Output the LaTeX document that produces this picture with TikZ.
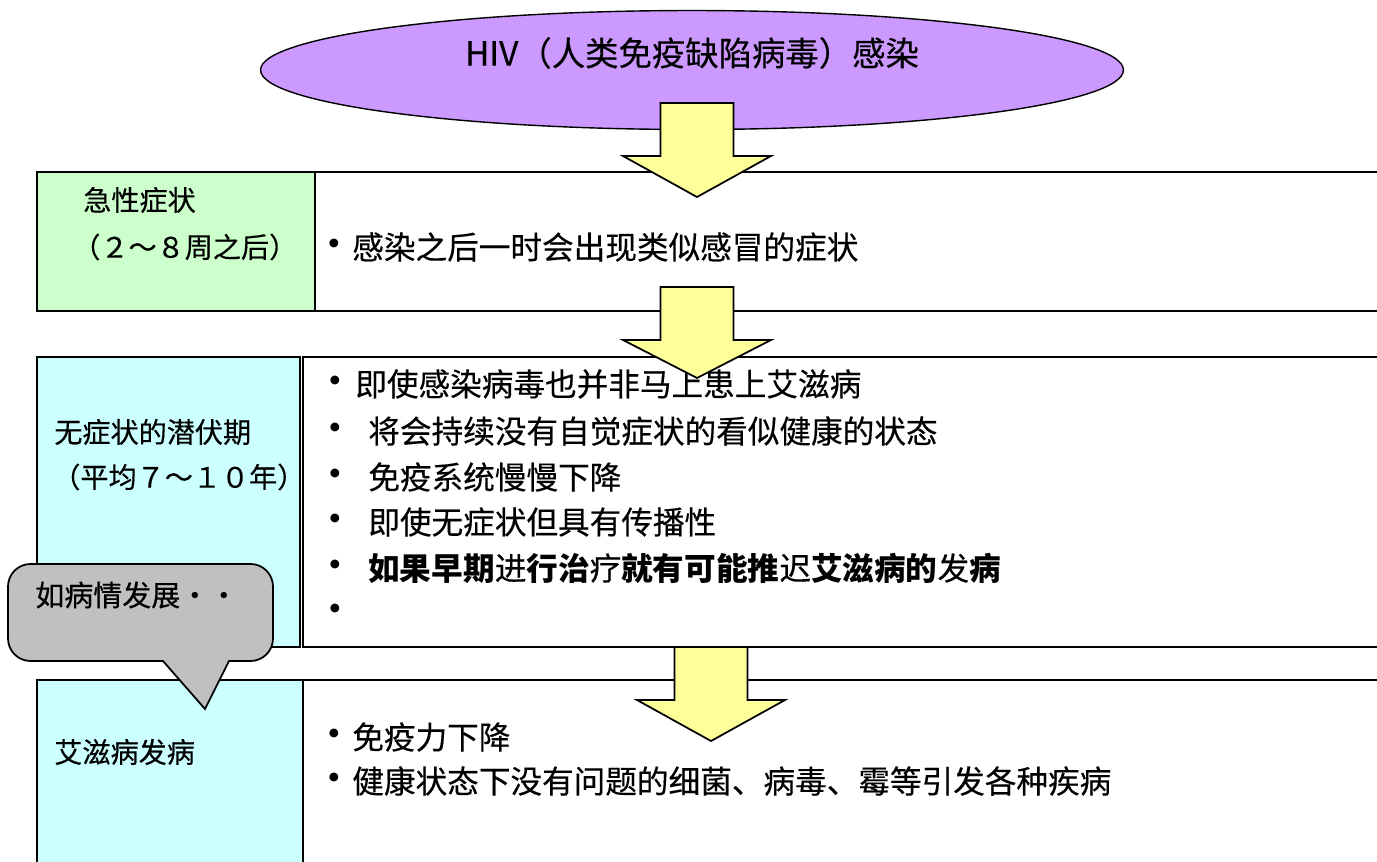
\documentclass[tikz,border=0pt]{standalone}
\usepackage{fontspec}
\setmainfont{Noto Sans CJK SC}[UprightFeatures={FakeBold=0.35}]
\usetikzlibrary{shapes.geometric}
\definecolor{hivpurple}{HTML}{CC99FF}
\definecolor{acutegreen}{HTML}{CCFFCC}
\definecolor{latentcyan}{HTML}{CCFFFF}
\definecolor{arrowyellow}{HTML}{FFFF99}
\definecolor{calloutgray}{HTML}{C0C0C0}
\newcommand{\downblock}[4]{\filldraw[blockarrow] (#1-36.5,#2) -- (#1+36.5,#2) -- (#1+36.5,#3) -- (#1+74,#3) -- (#1,#4) -- (#1-74,#3) -- (#1-36.5,#3) -- cycle;}

\begin{document}
\begin{tikzpicture}[x=0.02cm, y=-0.02cm,
    stagebox/.style={draw, line width=1pt},
    blockarrow/.style={draw, fill=arrowyellow, line width=1pt, line join=miter},
    sidetext/.style={anchor=west, inner sep=0pt, font=\fontsize{16}{16}\selectfont},
    bodytext/.style={anchor=west, inner sep=0pt, font=\fontsize{18}{18}\selectfont},
    bulletdot/.style={inner sep=0pt, font=\fontsize{18}{18}\selectfont\bfseries}]
  \useasboundingbox (0,0) rectangle (1377,862);
  \clip (0,0) rectangle (1377,862);

  \node[ellipse, draw, fill=hivpurple, line width=0.8pt, minimum width=17.26cm, minimum height=2.38cm, inner sep=0pt] (infect) at (692,70) {};
  \node[inner sep=0pt, font=\fontsize{19}{19}\selectfont] (infecttxt) at (692,53) {HIV（人类免疫缺陷病毒）感染};

  \draw[stagebox, fill=acutegreen] (37,172) rectangle (315,311);
  \draw[stagebox] (315,172) rectangle (1400,311);
  \draw[stagebox, fill=latentcyan] (37,357) rectangle (300,647);
  \draw[stagebox] (303,357) rectangle (1400,647);
  \draw[stagebox, fill=latentcyan] (37,680) rectangle (303,900);
  \draw[stagebox] (303,680) rectangle (1400,900);

  \node[sidetext] (acute) at (83,200) {急性症状};
  \node[sidetext] (acuteweeks) at (72,247) {（２～８周之后）};
  \node[bulletdot] (b11) at (334,247) {・};
  \node[bodytext] (t11) at (352,247) {感染之后一时会出现类似感冒的症状};

  \node[sidetext] (latent) at (54,432) {无症状的潜伏期};
  \node[sidetext] (latentyears) at (52,477) {（平均７～１０年）};
  \foreach \y [count=\i] in {384,431,477,522,568,612}
    \node[bulletdot] (b2\i) at (335,\y) {・};
  \node[bodytext] (t21) at (355,384) {即使感染病毒也并非马上患上艾滋病};
  \node[bodytext] (t22) at (368,431) {将会持续没有自觉症状的看似健康的状态};
  \node[bodytext] (t23) at (368,477) {免疫系统慢慢下降};
  \node[bodytext] (t24) at (368,522) {即使无症状但具有传播性};
  \node[bodytext] (t25) at (368,568) {\textbf{如果早期}进\textbf{行治}疗\textbf{就有可能推}迟\textbf{艾滋病的}发\textbf{病}};

  \node[sidetext] (aids) at (54,752) {艾滋病发病};
  \node[bulletdot] (b31) at (334,737) {・};
  \node[bodytext] (t31) at (352,737) {免疫力下降};
  \node[bulletdot] (b32) at (334,781) {・};
  \node[bodytext] (t32) at (352,781) {健康状态下没有问题的细菌、病毒、霉等引发各种疾病};

  \downblock{697}{103}{156}{197}
  \downblock{697}{287}{340}{378}
  \downblock{711}{647}{700}{741}

  \filldraw[draw=black, fill=calloutgray, line width=1pt] (163,661) [rounded corners=0.45cm] -- (8,661) -- (8,564) -- (273,564) -- (273,661) [sharp corners] -- (229,661) -- (205,709) -- cycle;
  \node[anchor=west, inner sep=0pt, font=\fontsize{16.5}{16.5}\selectfont] (worsen) at (35,595) {如病情发展・・};
\end{tikzpicture}
\end{document}
